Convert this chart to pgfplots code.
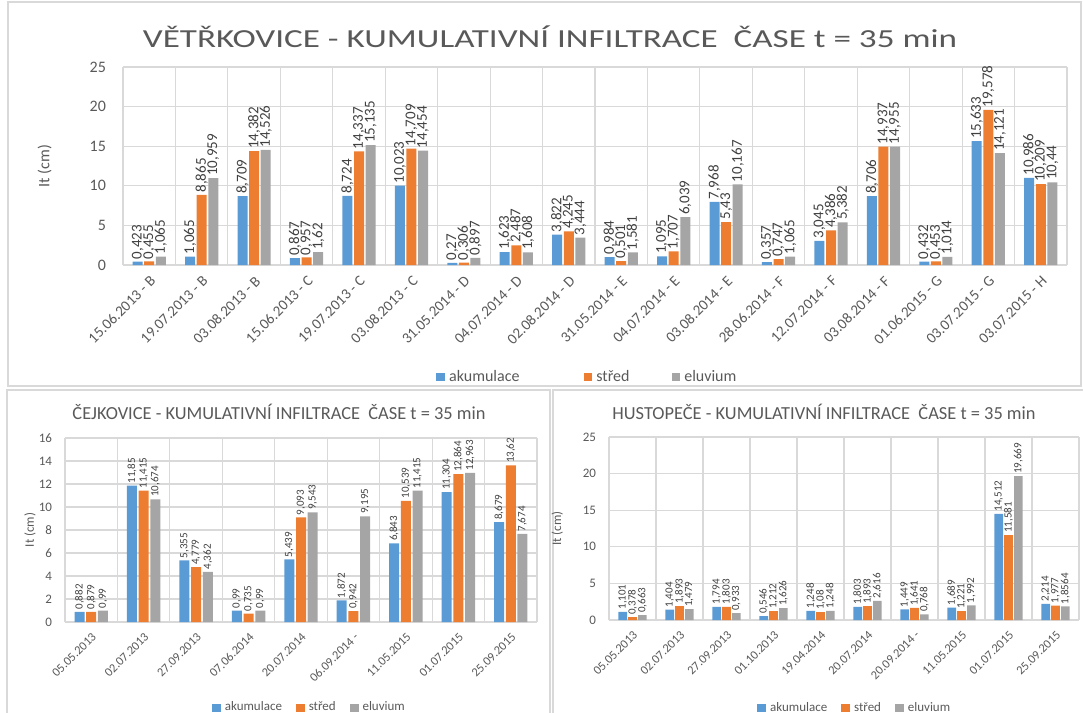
\documentclass[border=0pt]{standalone}
\usepackage{pgfplots}
\usepackage{pgfplotstable}
\pgfplotsset{compat=1.18}
\usepackage{fontspec}
\setmainfont{Carlito}
\definecolor{cblue}{HTML}{5B9BD5}
\definecolor{corange}{HTML}{ED7D31}
\definecolor{cgray}{HTML}{A5A5A5}
\definecolor{gridc}{HTML}{D9D9D9}
\definecolor{txt}{HTML}{595959}
\definecolor{lbl}{HTML}{404040}

% VETRKOVICE
\pgfplotstableread{
i a s e
0 0.423 0.455 1.065
1 1.065 8.865 10.959
2 8.709 14.382 14.526
3 0.867 0.957 1.62
4 8.724 14.337 15.135
5 10.023 14.709 14.454
6 0.27 0.306 0.897
7 1.623 2.487 1.608
8 3.822 4.245 3.444
9 0.984 0.501 1.581
10 1.095 1.707 6.039
11 7.968 5.43 10.167
12 0.357 0.747 1.065
13 3.045 4.386 5.382
14 8.706 14.937 14.955
15 0.432 0.453 1.014
16 15.633 19.578 14.121
17 10.986 10.209 10.44
}\vetr

% CEJKOVICE
\pgfplotstableread{
i a s e
0 0.882 0.879 0.99
1 11.85 11.415 10.674
2 5.355 4.779 4.362
3 0.99 0.735 0.99
4 5.439 9.093 9.543
5 1.872 0.942 9.195
6 6.843 10.539 11.415
7 11.304 12.864 12.963
8 8.679 13.62 7.674
}\cejk

% HUSTOPECE
\pgfplotstableread{
i a s e
0 1.101 0.378 0.663
1 1.404 1.893 1.479
2 1.794 1.803 0.933
3 0.546 1.212 1.626
4 1.248 1.08 1.248
5 1.803 1.893 2.616
6 1.449 1.641 0.768
7 1.689 1.221 1.992
8 14.512 11.581 19.669
9 2.214 1.977 1.8564
}\hust

\pgfplotsset{
  panel/.style={
    scale only axis,
    ymin=0,
    axis line style={draw=none},
    major tick length=0pt,
    minor tick length=0pt,
    ymajorgrids, xminorgrids,
    major grid style={draw=gridc, line width=0.6pt},
    minor grid style={draw=gridc, line width=0.6pt},
    tick label style={text=txt},
    ylabel={It (cm)},
    label style={text=txt},
    /pgf/number format/assume math mode=true,
    /pgf/number format/use comma,
    /pgf/number format/fixed,
    /pgf/number format/precision=4,
    /pgf/number format/1000 sep={},
    nodes near coords,
    legend columns=-1,
    legend style={draw=none, fill=none, text=txt},
  },
  % applied after ybar=..., so that the rotation follows the bar shift
  labs/.style={
    every node near coord/.append style={rotate=90, anchor=west, text=lbl, inner sep=1pt, font=#1},
    legend image code/.code={\fill[##1] (0pt,-2.2pt) rectangle (4.4pt,2.2pt);},
  },
}
\newcommand{\gap}[1]{\hspace*{#1}\mbox{}}

\begin{document}
\begin{tikzpicture}
\path[use as bounding box] (0,0) rectangle (541.5pt,-356.5pt);
\draw[gridc, line width=0.8pt] (4pt,-1pt) rectangle (540.5pt,-193pt);
\draw[gridc, line width=0.8pt] (3.5pt,-195pt) rectangle (275pt,-358pt);
\draw[gridc, line width=0.8pt] (276.5pt,-195pt) rectangle (543pt,-358pt);

\node[text=txt, font=\fontsize{13}{15}\selectfont, xscale=1.35] at (275pt,-18.5pt)
  {VĚTŘKOVICE - KUMULATIVNÍ INFILTRACE\ \ ČASE t = 35 min};
\node[text=txt, font=\fontsize{9.2}{11}\selectfont] at (139.5pt,-206pt)
  {ČEJKOVICE - KUMULATIVNÍ INFILTRACE\ \ ČASE t = 35 min};
\node[text=txt, font=\fontsize{9.2}{11}\selectfont] at (412pt,-206pt)
  {HUSTOPEČE - KUMULATIVNÍ INFILTRACE\ \ ČASE t = 35 min};

% top panel
\begin{axis}[panel,
  at={(61.5pt,-132.5pt)}, anchor=south west,
  width=472pt, height=99pt,
  xmin=-0.5, xmax=17.5, ymax=25, ytick={0,5,...,25},
  xtick={0,...,17}, minor xtick={-0.5,0.5,...,17.5},
  xticklabels={15.06.2013 - B,19.07.2013 - B,03.08.2013 - B,15.06.2013 - C,19.07.2013 - C,03.08.2013 - C,31.05.2014 - D,04.07.2014 - D,02.08.2014 - D,31.05.2014 - E,04.07.2014 - E,03.08.2014 - E,28.06.2014 - F,12.07.2014 - F,03.08.2014 - F,01.06.2015 - G,03.07.2015 - G,03.07.2015 - H},
  x tick label style={rotate=45, anchor=north east, font=\fontsize{7.5}{8}\selectfont},
  y tick label style={font=\fontsize{8}{9}\selectfont, xshift=-5pt},
  ylabel style={at={(axis description cs:-0.083,0.5)}, anchor=center, font=\fontsize{8}{9}\selectfont},
  ybar=0.8pt, bar width=5pt,
  labs={\fontsize{7.5}{8}\selectfont},
  legend style={at={(axis description cs:0.493,-0.566)}, anchor=center, font=\fontsize{8}{9}\selectfont},
]
\addplot[fill=cblue, draw=none] table[x=i, y=a]{\vetr};
\addplot[fill=corange, draw=none] table[x=i, y=s]{\vetr};
\addplot[fill=cgray, draw=none] table[x=i, y=e]{\vetr};
\legend{akumulace\gap{30pt}, střed\gap{19pt}, eluvium}
\end{axis}

% bottom left
\begin{axis}[panel,
  at={(32.5pt,-311pt)}, anchor=south west,
  width=236pt, height=92pt,
  xmin=-0.5, xmax=8.5, ymax=16, ytick={0,2,...,16},
  xtick={0,...,8}, minor xtick={-0.5,0.5,...,8.5},
  xticklabels={05.05.2013,02.07.2013,27.09.2013,07.06.2014,20.07.2014,06.09.2014 -,11.05.2015,01.07.2015,25.09.2015},
  x tick label style={rotate=45, anchor=north east, font=\fontsize{6.2}{7}\selectfont},
  y tick label style={font=\fontsize{6.5}{7}\selectfont, xshift=-3pt},
  ylabel style={at={(axis description cs:-0.074,0.5)}, anchor=center, font=\fontsize{6.5}{7}\selectfont},
  ybar=0.85pt, bar width=5pt,
  labs={\fontsize{5.5}{6}\selectfont},
  legend style={at={(axis description cs:0.52,-0.467)}, anchor=center, font=\fontsize{6.5}{7}\selectfont},
]
\addplot[fill=cblue, draw=none] table[x=i, y=a]{\cejk};
\addplot[fill=corange, draw=none] table[x=i, y=s]{\cejk};
\addplot[fill=cgray, draw=none] table[x=i, y=e]{\cejk};
\legend{akumulace\gap{5pt}, střed\gap{5pt}, eluvium}
\end{axis}

% bottom right
\begin{axis}[panel,
  at={(304.5pt,-310pt)}, anchor=south west,
  width=235pt, height=91.5pt,
  xmin=-0.5, xmax=9.5, ymax=25, ytick={0,5,...,25},
  xtick={0,...,9}, minor xtick={-0.5,0.5,...,9.5},
  xticklabels={05.05.2013,02.07.2013,27.09.2013,01.10.2013,19.04.2014,20.07.2014,20.09.2014 -,11.05.2015,01.07.2015,25.09.2015},
  x tick label style={rotate=45, anchor=north east, font=\fontsize{6.2}{7}\selectfont},
  y tick label style={font=\fontsize{6.5}{7}\selectfont, xshift=-3pt},
  ylabel style={at={(axis description cs:-0.11,0.5)}, anchor=center, font=\fontsize{6.5}{7}\selectfont},
  ybar=0.6pt, bar width=4.3pt,
  labs={\fontsize{5.5}{6}\selectfont},
  legend style={at={(axis description cs:0.525,-0.481)}, anchor=center, font=\fontsize{6.5}{7}\selectfont},
]
\addplot[fill=cblue, draw=none] table[x=i, y=a]{\hust};
\addplot[fill=corange, draw=none] table[x=i, y=s]{\hust};
\addplot[fill=cgray, draw=none] table[x=i, y=e]{\hust};
\legend{akumulace\gap{5pt}, střed\gap{5pt}, eluvium}
\end{axis}
\end{tikzpicture}
\end{document}
